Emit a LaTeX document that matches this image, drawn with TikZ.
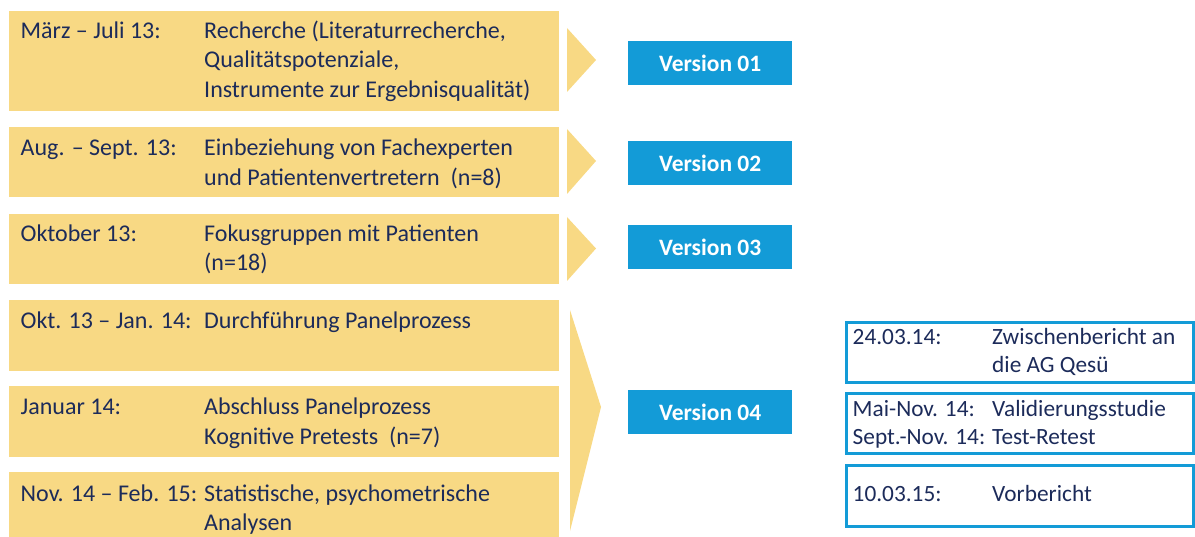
\documentclass[tikz,border=0pt]{standalone}
\usepackage{fontspec}
\setmainfont{Carlito}
\definecolor{ybox}{HTML}{F8D984}
\definecolor{vblue}{HTML}{139BD7}
\definecolor{navy}{HTML}{1C2B5A}
\newcommand{\tl}[1]{\begin{tabular}[t]{@{}l@{}}#1\end{tabular}}
\tikzset{
  ybox/.style={fill=ybox, draw=none, anchor=north west, inner sep=0pt, minimum width=550pt},
  tri/.style={fill=ybox, draw=none},
  vbox/.style={fill=vblue, draw=none, text=white, font=\fontsize{23.5}{28}\selectfont\bfseries, minimum width=164pt, minimum height=43.5pt, inner sep=0pt, anchor=north west},
  rbox/.style={draw=vblue, line width=2.8pt, anchor=north west, inner sep=0pt, minimum width=347pt},
  lbl/.style={anchor=base west, inner sep=0pt, text=navy, font=\fontsize{24}{29.3}\selectfont},
  rlbl/.style={anchor=base west, inner sep=0pt, text=navy, font=\fontsize{23.3}{27.5}\selectfont},
}
\begin{document}
\begin{tikzpicture}[x=1pt, y=-1pt]
\useasboundingbox (0,0) rectangle (1195,537);
% yellow boxes
\node[ybox, minimum height=100pt] (b1) at (8.5,11) {};
\node[ybox, minimum height=70pt] (b2) at (8.5,127) {};
\node[ybox, minimum height=70pt] (b3) at (8.5,214) {};
\node[ybox, minimum height=71pt] (b4) at (8.5,300) {};
\node[ybox, minimum height=71pt] (b5) at (8.5,386) {};
\node[ybox, minimum height=65pt] (b6) at (8.5,472) {};
% texts
\node[lbl] (d1) at (20.5,38.5) {März – Juli 13:};
\node[lbl] (t1) at (204,38.5) {\tl{Recherche (Literaturrecherche,\\Qualitätspotenziale,\\Instrumente zur Ergebnisqualität)}};
\node[lbl] (d2) at (20.5,156) {Aug. – Sept. 13:};
\node[lbl] (t2) at (204,156) {\tl{Einbeziehung von Fachexperten\\und Patientenvertretern\ \ (n=8)}};
\node[lbl] (d3) at (20.5,241.7) {Oktober 13:};
\node[lbl] (t3) at (204,241.7) {\tl{Fokusgruppen mit Patienten\\(n=18)}};
\node[lbl] (d4) at (20.5,328.3) {Okt. 13 – Jan. 14:};
\node[lbl] (t4) at (204,328.3) {Durchführung Panelprozess};
\node[lbl] (d5) at (20.5,415) {Januar 14:};
\node[lbl] (t5) at (204,415) {\tl{Abschluss Panelprozess\\Kognitive Pretests\ \ (n=7)}};
\node[lbl] (d6) at (20.5,501) {Nov. 14 – Feb. 15:};
\node[lbl] (t6) at (204,501) {\tl{Statistische, psychometrische\\Analysen}};
% version boxes
\node[vbox] (v1) at (628,41) {Version 01};
\node[vbox] (v2) at (628,141) {Version 02};
\node[vbox] (v3) at (628,225) {Version 03};
\node[vbox] (v4) at (628,390) {Version 04};
% triangles
\fill[tri] (567,28) -- (596,60) -- (567,92) -- cycle;
\fill[tri] (567,129) -- (596,161) -- (567,194) -- cycle;
\fill[tri] (567,217) -- (596,248.5) -- (567,281) -- cycle;
\fill[tri] (570,310) -- (601,407) -- (570,531) -- cycle;
% right boxes
\node[rbox, minimum height=60pt] (r1) at (845.4,321.4) {};
\node[rbox, minimum height=60pt] (r2) at (845.4,392.4) {};
\node[rbox, minimum height=61pt] (r3) at (845.4,464.4) {};
\node[rlbl] (rd1) at (852.5,345) {24.03.14:};
\node[rlbl] (rt1) at (992,345) {\tl{Zwischenbericht an\\die AG Qesü}};
\node[rlbl] (rd2) at (852.5,416.7) {\tl{Mai-Nov. 14:\\Sept.-Nov. 14:}};
\node[rlbl] (rt2) at (992,416.7) {\tl{Validierungsstudie\\Test-Retest}};
\node[rlbl] (rd3) at (852.5,501.7) {10.03.15:};
\node[rlbl] (rt3) at (992,501.7) {Vorbericht};
\end{tikzpicture}
\end{document}
